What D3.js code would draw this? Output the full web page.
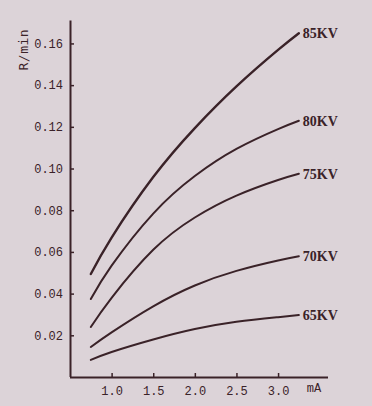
<!DOCTYPE html>
<html><head><meta charset="utf-8">
<script src="https://cdn.jsdelivr.net/npm/d3@7"></script>
<style>
html,body{margin:0;padding:0;background:#dcd3d8;}
svg{display:block;}
</style></head>
<body><svg id="c" width="372" height="406"></svg>
<script>
const currents = [0.75, 1.0, 1.5, 2.0, 2.5, 3.0, 3.25];
const kv85 = [0.0494, 0.0669, 0.0959, 0.1194, 0.1394, 0.1569, 0.1649];
const kv80 = [0.0374, 0.0534, 0.0784, 0.0964, 0.1094, 0.1189, 0.1229];
const kv75 = [0.0240, 0.0380, 0.0610, 0.0765, 0.0870, 0.0945, 0.0975];
const kv70 = [0.0144, 0.0214, 0.0339, 0.0439, 0.0509, 0.0559, 0.0579];
const kv65 = [0.0082, 0.0120, 0.0180, 0.0230, 0.0265, 0.0287, 0.0297];
const seriesNames = ["85KV", "80KV", "75KV", "70KV", "65KV"];
const seriesValues = [kv85, kv80, kv75, kv70, kv65];
const yTicks = [0.02, 0.04, 0.06, 0.08, 0.10, 0.12, 0.14, 0.16];
const xTicks = [1.0, 1.5, 2.0, 2.5, 3.0];
const yTitle = "R/min";
const xTitle = "mA";

const ink = "#3a2228";
const svg = d3.select("#c");
const x = d3.scaleLinear().domain([0.5, 3.6]).range([70, 328]);
const y = d3.scaleLinear().domain([0, 0.171]).range([377, 20.5]);

// axes
const yAxis = d3.axisLeft(y).tickValues(yTicks).tickFormat(d3.format(".2f")).tickSize(-4).tickPadding(7);
const gy = svg.append("g").attr("transform", `translate(${x(0.5)},0)`).call(yAxis);
const xAxis = d3.axisBottom(x).tickValues(xTicks).tickFormat(d3.format(".1f")).tickSize(-4).tickPadding(9);
const gx = svg.append("g").attr("transform", `translate(0,${y(0)})`).call(xAxis);
[gx, gy].forEach(g => {
  g.select(".domain").attr("stroke", ink).attr("stroke-width", 2);
  g.selectAll(".tick line").attr("stroke", ink).attr("stroke-width", 1.5);
  g.selectAll(".tick text").attr("fill", ink).style("font-family", "'Liberation Mono', monospace").style("font-size", "12px");
});
gy.select(".domain").attr("d", `M0.5,${y(0)}V${y(0.171)}`);
gx.select(".domain").attr("d", `M${x(0.5)},0.5H${x(3.6)}`);

svg.append("text").attr("transform", `translate(28,${y(0.157)}) rotate(-90)`)
  .attr("text-anchor", "middle").attr("fill", ink)
  .style("font-family", "'DejaVu Sans Mono', monospace").style("font-size", "13px").style("letter-spacing", "0.5px").text(yTitle);
svg.append("text").attr("x", 314).attr("y", 392).attr("text-anchor", "middle").attr("fill", ink)
  .style("font-family", "'Liberation Mono', monospace").style("font-size", "12px").text(xTitle);

// curves
const line = d3.line().x(d => x(d[0])).y(d => y(d[1])).curve(d3.curveNatural);
seriesValues.forEach((vals, i) => {
  const pts = currents.map((c, j) => [c, vals[j]]);
  svg.append("path").attr("d", line(pts)).attr("fill", "none").attr("stroke", ink)
    .attr("stroke-width", i === 0 ? 2.4 : 2).attr("stroke-linecap", "round");
  const last = pts[pts.length - 1];
  svg.append("text").attr("x", x(last[0]) + 4).attr("y", y(last[1]) + 5).attr("fill", ink)
    .style("font-family", "'Liberation Serif', serif").style("font-weight", "bold").style("font-size", "14px")
    .text(seriesNames[i]);
});
</script></body></html>
